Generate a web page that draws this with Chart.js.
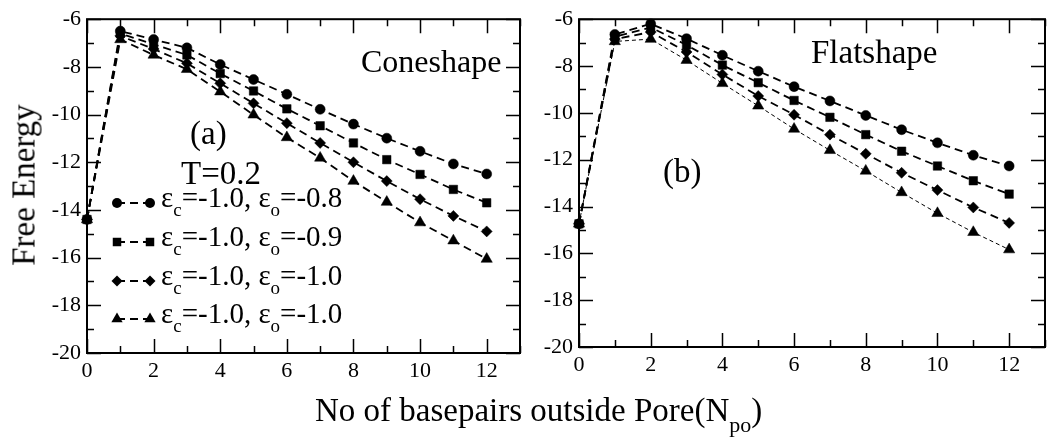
<!DOCTYPE html>
<html><head><meta charset="utf-8">
<script src="https://cdn.jsdelivr.net/npm/chart.js@4/dist/chart.umd.min.js"></script>
<style>
html,body{margin:0;padding:0;background:#fff;}
#wrap{position:relative;width:1052px;height:440px;overflow:hidden;font-family:"Liberation Serif","Times New Roman",serif;color:#000;}
canvas{position:absolute;top:0;}
.t{position:absolute;white-space:nowrap;line-height:1;}
.lg{font-size:29px;}
.lg sub{font-size:19px;vertical-align:-9px;line-height:0;}
.xt sub{font-size:22px;vertical-align:-11px;line-height:0;}
</style></head>
<body><div id="wrap">
<canvas id="c1" width="530" height="440" style="left:0px"></canvas>
<canvas id="c2" width="532" height="440" style="left:520px"></canvas>
<div class="t" style="left:361px;top:45px;font-size:32px;">Coneshape</div>
<div class="t" style="left:811px;top:36px;font-size:33px;">Flatshape</div>
<div class="t" style="left:190px;top:117px;font-size:33px;">(a)</div>
<div class="t" style="left:181px;top:157px;font-size:33px;">T=0.2</div>
<div class="t" style="left:663px;top:155px;font-size:33px;">(b)</div>
<div class="t lg" style="left:161px;top:183px;">ε<sub>c</sub>=-1.0, ε<sub>o</sub>=-0.8</div>
<div class="t lg" style="left:161px;top:222px;">ε<sub>c</sub>=-1.0, ε<sub>o</sub>=-0.9</div>
<div class="t lg" style="left:161px;top:261px;">ε<sub>c</sub>=-1.0, ε<sub>o</sub>=-1.0</div>
<div class="t lg" style="left:161px;top:299px;">ε<sub>c</sub>=-1.0, ε<sub>o</sub>=-1.0</div>
<div class="t xt" style="left:315px;top:394px;font-size:33px;">No of basepairs outside Pore(N<sub>po</sub>)</div>
<div class="t" style="left:24px;top:185px;font-size:33px;transform:translate(-50%,-50%) rotate(-90deg);">Free Energy</div>
</div>
<script>
const FONT = '"Liberation Serif","Times New Roman",serif';
const xVals = [0,1,2,3,4,5,6,7,8,9,10,11,12];
const xTickLabels = [0,2,4,6,8,10,12];
const yTickLabels = [-20,-18,-16,-14,-12,-10,-8,-6];
const legendLabels = ['εc=-1.0, εo=-0.8','εc=-1.0, εo=-0.9','εc=-1.0, εo=-1.0','εc=-1.0, εo=-1.0'];

// Panel (a) Coneshape
const coneCircle   = [-14.4,-6.5,-6.85,-7.2,-7.9,-8.53,-9.15,-9.78,-10.4,-10.99,-11.54,-12.07,-12.49];
const coneSquare   = [-14.4,-6.6,-7.05,-7.5,-8.28,-9.01,-9.76,-10.47,-11.19,-11.89,-12.51,-13.14,-13.7];
const coneDiamond  = [-14.4,-6.7,-7.25,-7.85,-8.69,-9.53,-10.36,-11.19,-12.0,-12.79,-13.55,-14.25,-14.9];
const coneTriangle = [-14.4,-6.85,-7.5,-8.1,-9.04,-10.01,-10.96,-11.82,-12.79,-13.67,-14.53,-15.29,-16.06];

// Panel (b) Flatshape
const flatCircle   = [-14.74,-6.65,-6.2,-6.83,-7.54,-8.22,-8.88,-9.49,-10.11,-10.72,-11.28,-11.81,-12.27];
const flatSquare   = [-14.74,-6.75,-6.35,-7.1,-7.96,-8.71,-9.47,-10.19,-10.93,-11.64,-12.27,-12.9,-13.47];
const flatDiamond  = [-14.74,-6.85,-6.55,-7.4,-8.36,-9.28,-10.08,-10.93,-11.75,-12.56,-13.3,-14.04,-14.7];
const flatTriangle = [-14.74,-6.95,-6.85,-7.75,-8.74,-9.7,-10.69,-11.6,-12.48,-13.4,-14.29,-15.1,-15.84];

const STYLES = [
  {pointStyle:'circle', r:5},
  {pointStyle:'rect', r:6},
  {pointStyle:'rectRot', r:5.5},
  {pointStyle:'triangle', r:6.5}
];

function ds(label, data, k, dash, w){
  return {
    label, data: xVals.map((x,i)=>({x, y:data[i]})),
    borderColor:'#000', backgroundColor:'#000', pointBackgroundColor:'#000', pointBorderColor:'#000',
    pointStyle:STYLES[k].pointStyle, pointRadius:STYLES[k].r, pointHoverRadius:STYLES[k].r,
    pointBorderWidth:0.5, borderWidth:w, borderDash:dash, tension:0, fill:false, clip:false
  };
}

function scales(yWidth){
  const tickFont = {family:FONT, size:22};
  return {
    x:{type:'linear', min:0, max:13,
       afterBuildTicks:s=>{ s.ticks = xTickLabels.map(v=>({value:v})); },
       afterFit:s=>{ s.height = 30; },
       ticks:{font:tickFont, color:'#000', padding:5, maxRotation:0, autoSkip:false, includeBounds:false},
       grid:{display:false, drawTicks:false, tickLength:0}, border:{display:false}},
    y:{type:'linear', min:-20, max:-6,
       afterBuildTicks:s=>{ s.ticks = yTickLabels.map(v=>({value:v})); },
       afterFit:s=>{ s.width = yWidth; },
       ticks:{font:tickFont, color:'#000', padding:6, autoSkip:false, includeBounds:false},
       grid:{display:false, drawTicks:false, tickLength:0}, border:{display:false}}
  };
}

const framePlugin = {
  id:'frame',
  beforeDatasetsDraw(chart){
    const {ctx, chartArea:a, scales:{x, y}} = chart;
    ctx.save();
    ctx.strokeStyle = '#000';
    ctx.lineWidth = 2;
    ctx.strokeRect(a.left, a.top, a.right - a.left, a.bottom - a.top);
    ctx.lineWidth = 1.5;
    ctx.beginPath();
    for (let v = 0; v <= 13; v++) {
      const px = Math.round(x.getPixelForValue(v)) + 0.5;
      const len = v % 2 === 0 ? 14 : 7;
      ctx.moveTo(px, a.bottom); ctx.lineTo(px, a.bottom - len);
      ctx.moveTo(px, a.top); ctx.lineTo(px, a.top + len);
    }
    for (let v = -20; v <= -6; v++) {
      const py = Math.round(y.getPixelForValue(v)) + 0.5;
      const len = v % 2 === 0 ? 14 : 7;
      ctx.moveTo(a.left, py); ctx.lineTo(a.left + len, py);
      ctx.moveTo(a.right, py); ctx.lineTo(a.right - len, py);
    }
    ctx.stroke();
    ctx.restore();
  }
};

function marker(ctx, style, x, y, r){
  ctx.beginPath();
  if (style === 'circle') { ctx.arc(x, y, r, 0, Math.PI*2); }
  else if (style === 'rect') { const h = r*Math.SQRT1_2; ctx.rect(x-h, y-h, 2*h, 2*h); }
  else if (style === 'rectRot') { ctx.moveTo(x, y-r); ctx.lineTo(x+r, y); ctx.lineTo(x, y+r); ctx.lineTo(x-r, y); ctx.closePath(); }
  else if (style === 'triangle') {
    let a = 0;
    ctx.moveTo(x + Math.sin(a)*r, y - Math.cos(a)*r);
    a += 2*Math.PI/3; ctx.lineTo(x + Math.sin(a)*r, y - Math.cos(a)*r);
    a += 2*Math.PI/3; ctx.lineTo(x + Math.sin(a)*r, y - Math.cos(a)*r);
    ctx.closePath();
  }
  ctx.fill();
}

const legendPlugin = {
  id:'legendSamples',
  afterDraw(chart){
    const ctx = chart.ctx;
    const rows = [203, 242, 281, 319];
    ctx.save();
    chart.data.datasets.forEach((d, i) => {
      const y = rows[i];
      ctx.strokeStyle = '#000'; ctx.fillStyle = '#000';
      ctx.lineWidth = d.borderWidth;
      ctx.setLineDash(d.borderDash);
      ctx.beginPath(); ctx.moveTo(117, y); ctx.lineTo(150, y); ctx.stroke();
      ctx.setLineDash([]);
      marker(ctx, d.pointStyle, 117, y, d.pointRadius);
      marker(ctx, d.pointStyle, 150, y, d.pointRadius);
    });
    ctx.restore();
  }
};

const common = {
  responsive:false, animation:false, events:[],
  plugins:{legend:{display:false}, tooltip:{enabled:false}}
};

new Chart(document.getElementById('c1'), {
  type:'line',
  data:{datasets:[
    ds(legendLabels[0], coneCircle, 0, [8,5], 1.8),
    ds(legendLabels[1], coneSquare, 1, [8,5], 1.8),
    ds(legendLabels[2], coneDiamond, 2, [8,5], 1.8),
    ds(legendLabels[3], coneTriangle, 3, [8,5], 1.8)
  ]},
  options:Object.assign({}, common, {
    layout:{padding:{left:0, top:17, right:10, bottom:57}},
    scales:scales(87)
  }),
  plugins:[framePlugin, legendPlugin]
});

new Chart(document.getElementById('c2'), {
  type:'line',
  data:{datasets:[
    ds(legendLabels[0], flatCircle, 0, [8,5], 1.8),
    ds(legendLabels[1], flatSquare, 1, [8,5], 1.8),
    ds(legendLabels[2], flatDiamond, 2, [8,5], 1.8),
    ds(legendLabels[3], flatTriangle, 3, [4,3], 1)
  ]},
  options:Object.assign({}, common, {
    layout:{padding:{left:0, top:17, right:5, bottom:63}},
    scales:scales(59)
  }),
  plugins:[framePlugin]
});
</script>
</body></html>
